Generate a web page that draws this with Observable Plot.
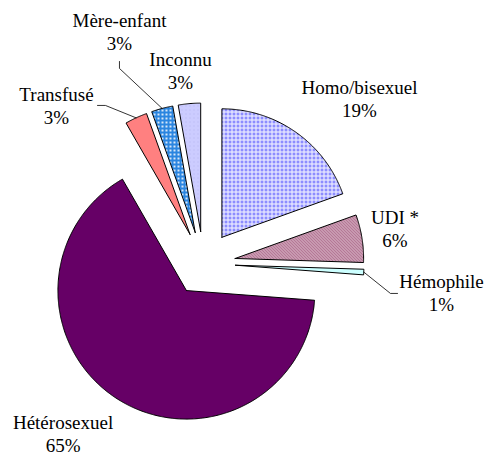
<!DOCTYPE html>
<html>
<head>
<meta charset="utf-8">
<script src="https://cdn.jsdelivr.net/npm/d3@7"></script>
<script src="https://cdn.jsdelivr.net/npm/@observablehq/plot@0.6"></script>
<style>
  html, body { margin: 0; padding: 0; background: #ffffff; }
  #chart svg { display: block; }
  #chart svg text { font-family: "Liberation Serif", "Times New Roman", serif !important; }
</style>
</head>
<body>
<div id="chart"></div>
<script>
// ---- data ----
const categories = ["Homo/bisexuel", "UDI *", "Hémophile", "Hétérosexuel", "Transfusé", "Mère-enfant", "Inconnu"];
const shares = [19.5, 6.0, 0.7, 65.5, 2.8, 2.7, 2.8];
const percentLabels = ["19%", "6%", "1%", "65%", "3%", "3%", "3%"];

// ---- layout / style ----
const W = 485, H = 452;
const CX = 203, CY = 263, R = 128.5;        // pie centre and radius in pixels
const EXPLODE = 32 / R;                      // explosion distance, in radius units
const FONT = "Liberation Serif";
const FS = 19, LINE = 23.5;

const fills = {
  "Homo/bisexuel": "url(#pHomo)",
  "UDI *": "url(#pUDI)",
  "Hémophile": "#ccffff",
  "Hétérosexuel": "#660066",
  "Transfusé": "#ff8080",
  "Mère-enfant": "url(#pMere)",
  "Inconnu": "url(#pInc)"
};
// label anchor (centre of first text line), in radius units from pie centre
const labelAt = {
  "Homo/bisexuel": [1.214, 1.370],
  "UDI *": [1.490, 0.358],
  "Hémophile": [1.852, -0.140],
  "Hétérosexuel": [-1.093, -1.237],
  "Transfusé": [-1.144, 1.315],
  "Mère-enfant": [-0.654, 1.891],
  "Inconnu": [-0.179, 1.588]
};
// leader line bends: [elbow, end], in radius units
const leaders = {
  "Mère-enfant": [[-0.654, 1.518], [-0.654, 1.572]],
  "Transfusé": [[-0.763, 1.230], [-0.825, 1.230]],
  "Hémophile": [[1.455, -0.233], [1.510, -0.233]]
};

// ---- geometry via d3.pie ----
const rows = categories.map((c, i) => ({name: c, share: shares[i], pct: percentLabels[i]}));
const pie = d3.pie().sort(null).value(d => d.share).startAngle(0).endAngle(2 * Math.PI);
const arcs = pie(rows);
const polar = (a, rho, o = [0, 0]) => [o[0] + rho * Math.sin(a), o[1] + rho * Math.cos(a)];

const slices = arcs.map(a => {
  const mid = (a.startAngle + a.endAngle) / 2;
  const apex = polar(mid, EXPLODE);
  const n = Math.max(3, Math.ceil((a.endAngle - a.startAngle) / (Math.PI / 360)));
  const pts = [apex];
  for (let k = 0; k <= n; k++) {
    const t = a.startAngle + (a.endAngle - a.startAngle) * k / n;
    pts.push(polar(t, 1, apex));
  }
  pts.push(apex);
  return {name: a.data.name, mid, apex, pts: pts.map(([x, y]) => ({x, y}))};
});

const leaderPts = [];
for (const s of slices) {
  if (!leaders[s.name]) continue;
  const start = polar(s.mid, 1, s.apex);
  [start, ...leaders[s.name]].forEach(([x, y]) => leaderPts.push({name: s.name, x, y}));
}

const xDomain = [-CX / R, (W - CX) / R];
const yDomain = [(CY - H) / R, CY / R];

const chart = Plot.plot({
  width: W,
  height: H,
  margin: 0,
  x: {domain: xDomain, axis: null},
  y: {domain: yDomain, axis: null},
  style: {background: "#ffffff", fontFamily: FONT},
  marks: [
    ...slices.map(s => Plot.line(s.pts, {
      x: "x", y: "y", fill: fills[s.name], stroke: "black", strokeWidth: 1,
      strokeLinejoin: "miter", strokeMiterlimit: 4, curve: "linear"
    })),
    Plot.line(leaderPts, {x: "x", y: "y", z: "name", stroke: "black", strokeWidth: 0.8, strokeLinejoin: "miter"}),
    Plot.text(rows, {
      x: d => labelAt[d.name][0], y: d => labelAt[d.name][1], text: "name",
      fontSize: FS, fontFamily: FONT, fill: "black", textAnchor: "middle"
    }),
    Plot.text(rows, {
      x: d => labelAt[d.name][0], y: d => labelAt[d.name][1], text: "pct", dy: LINE,
      fontSize: FS, fontFamily: FONT, fill: "black", textAnchor: "middle"
    })
  ]
});

const svg = chart.tagName.toLowerCase() === "svg" ? chart : chart.querySelector("svg");

const NS = "http://www.w3.org/2000/svg";
const defs = document.createElementNS(NS, "defs");
function el(tag, attrs, parent) {
  const e = document.createElementNS(NS, tag);
  for (const k in attrs) e.setAttribute(k, attrs[k]);
  parent.appendChild(e);
  return e;
}
function pattern(id, size) {
  return el("pattern", {id, width: size, height: size, patternUnits: "userSpaceOnUse"}, defs);
}
let p = pattern("pHomo", 4);
el("rect", {width: 4, height: 4, fill: "#f2f2ff"}, p);
el("rect", {width: 3, height: 3, fill: "#9898ff"}, p);
el("rect", {x: 1, y: 1, width: 1, height: 1, fill: "#6666ff"}, p);
p = pattern("pUDI", 3);
el("rect", {width: 3, height: 3, fill: "#fbf2f6"}, p);
el("path", {d: "M0,0L3,3M-1,2L1,4M2,-1L4,1", stroke: "#8a2e5c", "stroke-width": 1.1}, p);
p = pattern("pMere", 4);
el("rect", {width: 4, height: 4, fill: "#2a85e0"}, p);
el("circle", {cx: 2, cy: 2, r: 1.1, fill: "#ffffff"}, p);
p = pattern("pInc", 4);
el("rect", {width: 4, height: 4, fill: "#ccccff"}, p);
el("rect", {x: 1, y: 1, width: 1, height: 1, fill: "#b4b4f0"}, p);
svg.insertBefore(defs, svg.firstChild);

document.getElementById("chart").appendChild(chart);
</script>
</body>
</html>
